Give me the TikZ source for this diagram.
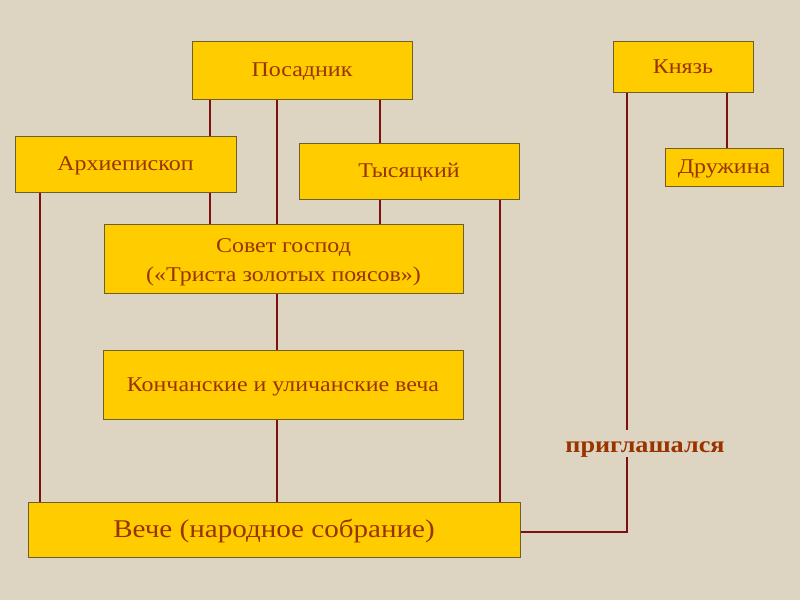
\documentclass[tikz,border=0pt]{standalone}
\usepackage{fontspec}
\setmainfont[FakeStretch=1.14]{Liberation Serif}
\usetikzlibrary{backgrounds}
\definecolor{bgc}{HTML}{DDD5C2}
\definecolor{boxfill}{HTML}{FFCC00}
\definecolor{boxline}{HTML}{6E5E2C}
\definecolor{txt}{HTML}{993300}
\definecolor{wire}{HTML}{7F1010}
\begin{document}
\begin{tikzpicture}[x=1pt,y=-1pt,
  box/.style={draw=boxline, line width=0.8pt, fill=boxfill, text=txt, inner sep=0pt, align=center, font=\fontsize{21}{29}\selectfont},
  oneline/.style={box, text height=13.9pt, text depth=0pt},
  plaintext/.style={text=txt, inner sep=0pt, align=center, font=\fontsize{21}{29}\selectfont},
  wireline/.style={draw=wire, line width=1.8pt},
  lbl/.style={text=txt, font=\fontsize{23}{28}\selectfont\bfseries, inner sep=0pt}]
\useasboundingbox (0,0) rectangle (800,600);
\node[oneline, minimum width=220pt, minimum height=58pt] (pos) at (302,70) {Посадник};
\node[oneline, minimum width=140pt, minimum height=51pt] (kn) at (683,66.5) {Князь};
\node[oneline, minimum width=118pt, minimum height=38pt] (dr) at (724,167) {Дружина};
\node[oneline, minimum width=221pt, minimum height=56pt] (arch) at (125.5,164) {Архиепископ};
\node[oneline, minimum width=220pt, minimum height=56pt] (tys) at (409,171) {Тысяцкий};
\node[box, minimum width=359pt, minimum height=69pt] (sov) at (283.5,258.5) {};
\node[plaintext, yshift=-4pt] (sovtext) at (sov.center) {Совет господ\\(«Триста золотых поясов»)};
\node[oneline, minimum width=360pt, minimum height=69pt] (kon) at (283,384.5) {Кончанские и уличанские веча};
\node[oneline, minimum width=492pt, minimum height=55pt, font=\fontsize{25.5}{30}\selectfont, text height=16.8pt] (vec) at (274,529.5) {Вече (народное собрание)};
\node[lbl, anchor=base] (inv) at (645,452) {приглашался};
\coordinate (x40) at (40,0);
\coordinate (x210) at (210,0);
\coordinate (x277) at (277,0);
\coordinate (x380) at (380,0);
\coordinate (x500) at (500,0);
\coordinate (x627) at (627,0);
\coordinate (x727) at (727,0);
\coordinate (invtop) at (627,430);
\coordinate (invbot) at (627,457);
\coordinate (corner) at (627,532);
\begin{scope}[on background layer]
\fill[bgc] (0,0) rectangle (800,600);
\draw[wireline] (pos.south -| x210) -- (sov.north -| x210);
\draw[wireline] (pos.south -| x277) -- (vec.north -| x277);
\draw[wireline] (pos.south -| x380) -- (tys.north -| x380);
\draw[wireline] (tys.south -| x380) -- (sov.north -| x380);
\draw[wireline] (arch.south -| x40) -- (vec.north -| x40);
\draw[wireline] (tys.south -| x500) -- (vec.north -| x500);
\draw[wireline] (kn.south -| x727) -- (dr.north -| x727);
\draw[wireline] (kn.south -| x627) -- (invtop);
\draw[wireline] (invbot) -- (corner) -- (corner -| vec.east);
\end{scope}
\end{tikzpicture}
\end{document}
